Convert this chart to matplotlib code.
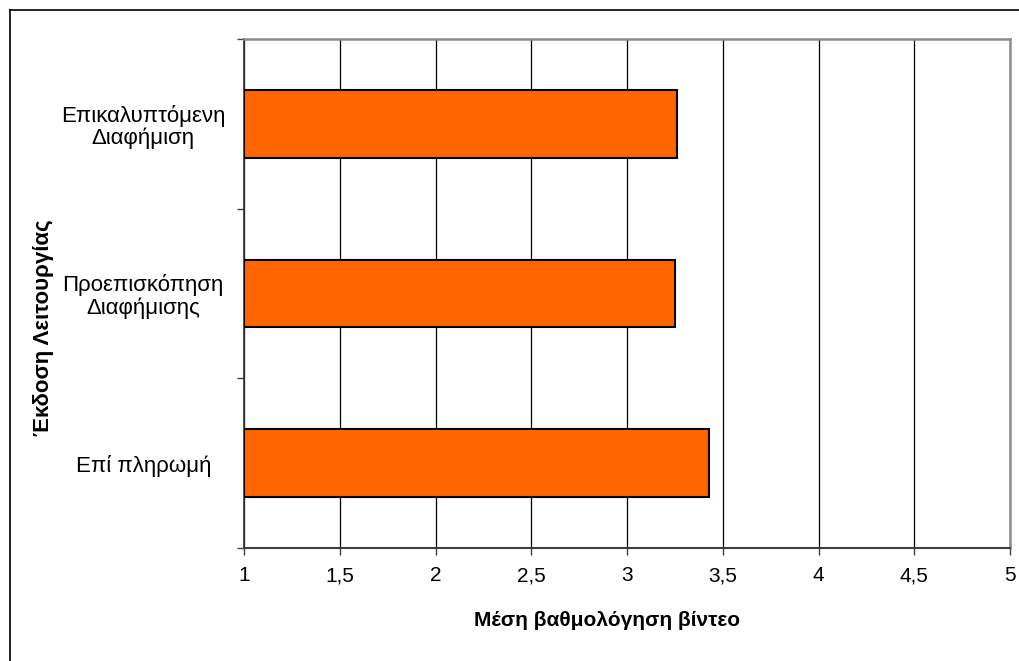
import matplotlib
matplotlib.use("Agg")
import matplotlib.pyplot as plt
from matplotlib.lines import Line2D

plt.rcParams['font.family'] = ['Liberation Sans', 'DejaVu Sans']

# Data
categories = ["Επικαλυπτόμενη\nΔιαφήμιση", "Προεπισκόπηση\nΔιαφήμισης", "Επί πληρωμή"]
scores = [3.26, 3.25, 3.43]
x_ticks = [1, 1.5, 2, 2.5, 3, 3.5, 4, 4.5, 5]
x_tick_labels = ["1", "1,5", "2", "2,5", "3", "3,5", "4", "4,5", "5"]
x_label = "Μέση βαθμολόγηση βίντεο"
y_label = "Έκδοση Λειτουργίας"

W, H = 1019, 661
fig = plt.figure(figsize=(W / 100, H / 100), dpi=100)
ax = fig.add_axes([244 / W, 1 - 548 / H, (1010 - 244) / W, (548 - 39) / H])

ypos = list(range(len(categories)))
ax.barh(ypos, [s - 1 for s in scores], left=1, height=0.4,
        color="#FF6600", edgecolor="black", linewidth=1.5, zorder=3)

ax.set_xlim(1, 5)
ax.set_ylim(len(categories) - 0.5, -0.5)

ax.set_xticks(x_ticks)
ax.set_xticklabels(x_tick_labels, fontsize=15)
ax.tick_params(axis='x', direction='out', length=5, width=1, color='#404040', pad=8)
ax.xaxis.grid(True, color='black', linewidth=0.9, zorder=1)
ax.set_axisbelow(True)

ax.set_yticks(ypos)
ax.set_yticklabels(categories, fontsize=16, multialignment='center', ha='center',
                   linespacing=1.05)
ax.tick_params(axis='y', which='major', length=0, pad=72.5)
ax.set_yticks([-0.5, 0.5, 1.5, 2.5], minor=True)
ax.tick_params(axis='y', which='minor', direction='out', length=5, width=1, color='#404040')

for side in ['top', 'right']:
    ax.spines[side].set_color('#8c8c8c')
    ax.spines[side].set_linewidth(1.8)
ax.spines['left'].set_color('#303030')
ax.spines['left'].set_linewidth(1.2)
ax.spines['bottom'].set_color('#404040')
ax.spines['bottom'].set_linewidth(1.5)

fig.text(607 / W, 1 - 620 / H, x_label, fontsize=15, fontweight='bold',
         ha='center', va='center')
fig.text(44 / W, 1 - 328 / H, y_label, fontsize=16, fontweight='bold',
         ha='center', va='center', rotation=90)

# Outer frame along the top and left edges
fig.add_artist(Line2D([10 / W, 1], [1 - 10 / H, 1 - 10 / H], color='black', lw=1.2,
                      transform=fig.transFigure))
fig.add_artist(Line2D([10 / W, 10 / W], [0, 1 - 10 / H], color='black', lw=1.2,
                      transform=fig.transFigure))

fig.savefig("out.png", dpi=100)
